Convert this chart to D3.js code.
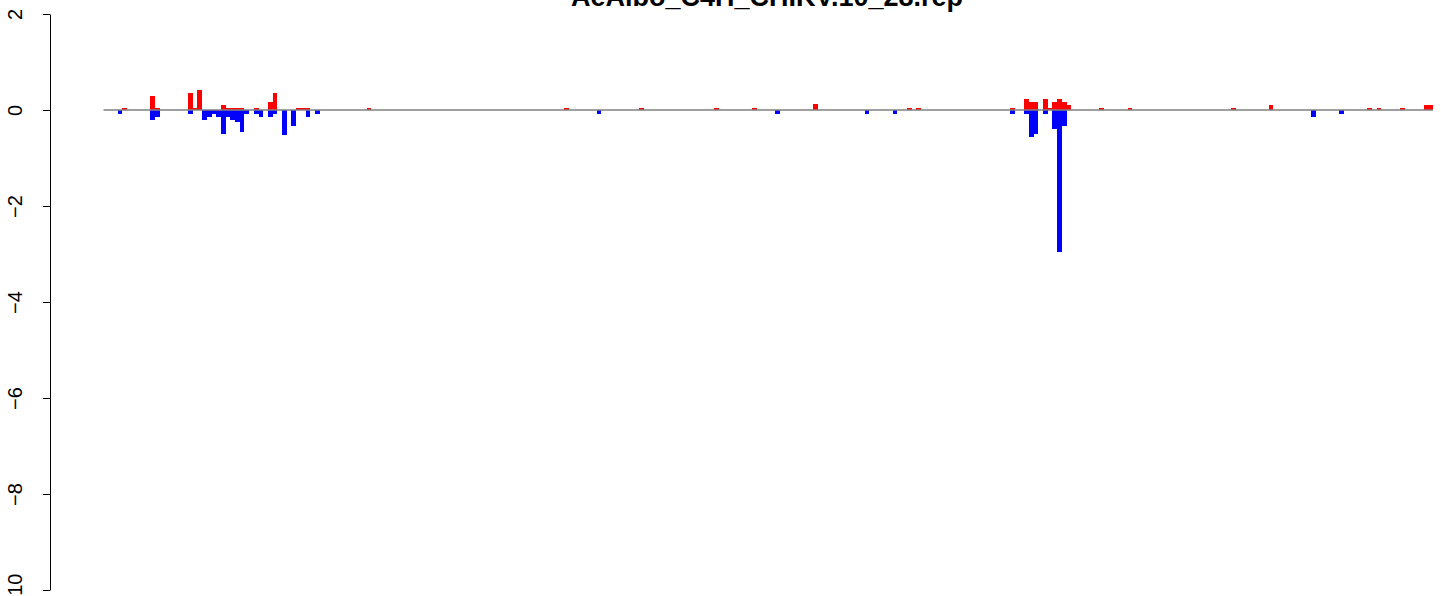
<!DOCTYPE html>
<html lang="en">
<head>
	<meta charset="UTF-8">
	<title>AeAlbo_C4H_CHIKV.10_28.rep</title>
	<script src="https://cdn.jsdelivr.net/npm/d3@7"></script>
	<style>
	body {
		margin: 0;
		background-color: #ffffff;
		overflow: hidden;
	}
	text {
		font-family: "Liberation Sans", Arial, sans-serif;
	}
	rect {
		shape-rendering: crispEdges;
	}
	</style>
</head>
<body>
<div id="chart"></div>

<script>
	// bin index along the x axis, with the up (red) and down (blue) value of each bin
	var bins = [3, 4, 10, 11, 18, 19, 20, 21, 22, 23, 24, 25, 26, 27, 28, 29, 30, 32, 33, 35, 36, 38, 40,
		41, 42, 43, 45, 56, 98, 105, 114, 130, 138, 143, 151, 162, 168, 171, 173, 193, 196, 197,
		198, 200, 201, 202, 203, 204, 205, 212, 218, 240, 248, 257, 263, 269, 271, 276, 281, 282];
	var upValues = [0, 0.05, 0.29, 0.05, 0.35, 0.05, 0.42, 0, 0, 0, 0, 0.1, 0.05, 0.05, 0.05, 0.05, 0, 0.05, 0, 0.17, 0.35, 0, 0,
		0.05, 0.05, 0.05, 0, 0.05, 0.05, 0, 0.05, 0.05, 0.05, 0, 0.12, 0, 0, 0.05, 0.05, 0.05, 0.23, 0.17,
		0.17, 0.23, 0.05, 0.17, 0.23, 0.17, 0.11, 0.05, 0.05, 0.05, 0.11, 0, 0, 0.05, 0.05, 0.05, 0.11, 0.11];
	var downValues = [-0.08, 0, -0.2, -0.14, -0.08, 0, 0, -0.2, -0.14, -0.08, -0.14, -0.5, -0.14, -0.2, -0.26, -0.46, -0.08, -0.08, -0.14, -0.14, -0.08, -0.52, -0.33,
		0, 0, -0.14, -0.08, 0, 0, -0.08, 0, 0, 0, -0.08, 0, -0.08, -0.08, 0, 0, -0.08, -0.08, -0.57,
		-0.51, -0.08, 0, -0.39, -2.96, -0.33, 0, 0, 0, 0, 0, -0.14, -0.08, 0, 0, 0, 0, 0];
	var binCount = 283;
	var yTicks = [2, 0, -2, -4, -6, -8, -10];
	var title = 'AeAlbo_C4H_CHIKV.10_28.rep';

	var width = 1441, height = 596;

	var svg = d3.select('#chart')
		.append('svg')
		.attr('width', width)
		.attr('height', height);

	var x = d3.scaleLinear()
		.domain([0, binCount])
		.range([103.5, 1433]);

	var y = d3.scaleLinear()
		.domain([-10, 2])
		.range([590, 14]);

	var data = bins.map(function (b, i) {
		return {bin: b, up: upValues[i], down: downValues[i]};
	});

	var barW = x(1) - x(0);

	svg.selectAll('.up')
		.data(data.filter(function (d) { return d.up > 0; }))
		.enter().append('rect')
		.attr('class', 'up')
		.attr('x', function (d) { return x(d.bin); })
		.attr('y', function (d) { return y(d.up); })
		.attr('width', barW)
		.attr('height', function (d) { return y(0) - y(d.up); })
		.style('fill', '#ff0000');

	svg.selectAll('.down')
		.data(data.filter(function (d) { return d.down < 0; }))
		.enter().append('rect')
		.attr('class', 'down')
		.attr('x', function (d) { return x(d.bin); })
		.attr('y', y(0))
		.attr('width', barW)
		.attr('height', function (d) { return y(d.down) - y(0); })
		.style('fill', '#0000ff');

	// zero line
	svg.append('line')
		.attr('x1', x(0))
		.attr('x2', x(binCount))
		.attr('y1', y(0))
		.attr('y2', y(0))
		.style('stroke', '#808080')
		.style('stroke-width', 1.3);

	var yAxis = d3.axisLeft(y)
		.tickValues(yTicks)
		.tickSize(7)
		.tickSizeOuter(0)
		.tickFormat(function (d) { return d < 0 ? '\u2212' + Math.abs(d) : d; });

	var gy = svg.append('g')
		.attr('transform', 'translate(50,0)')
		.call(yAxis);

	gy.select('.domain')
		.style('stroke', '#000')
		.style('stroke-width', 1);
	gy.selectAll('.tick line')
		.style('stroke', '#000');
	gy.selectAll('.tick text')
		.attr('x', 0)
		.attr('y', 0)
		.attr('dy', null)
		.attr('transform', 'translate(-28,0) rotate(-90)')
		.style('text-anchor', 'middle')
		.style('font-size', '20px')
		.style('fill', '#000');

	svg.append('text')
		.attr('x', 767)
		.attr('y', 6)
		.style('text-anchor', 'middle')
		.style('font-weight', 'bold')
		.style('font-size', '27px')
		.text(title);
</script>
</body>
</html>
